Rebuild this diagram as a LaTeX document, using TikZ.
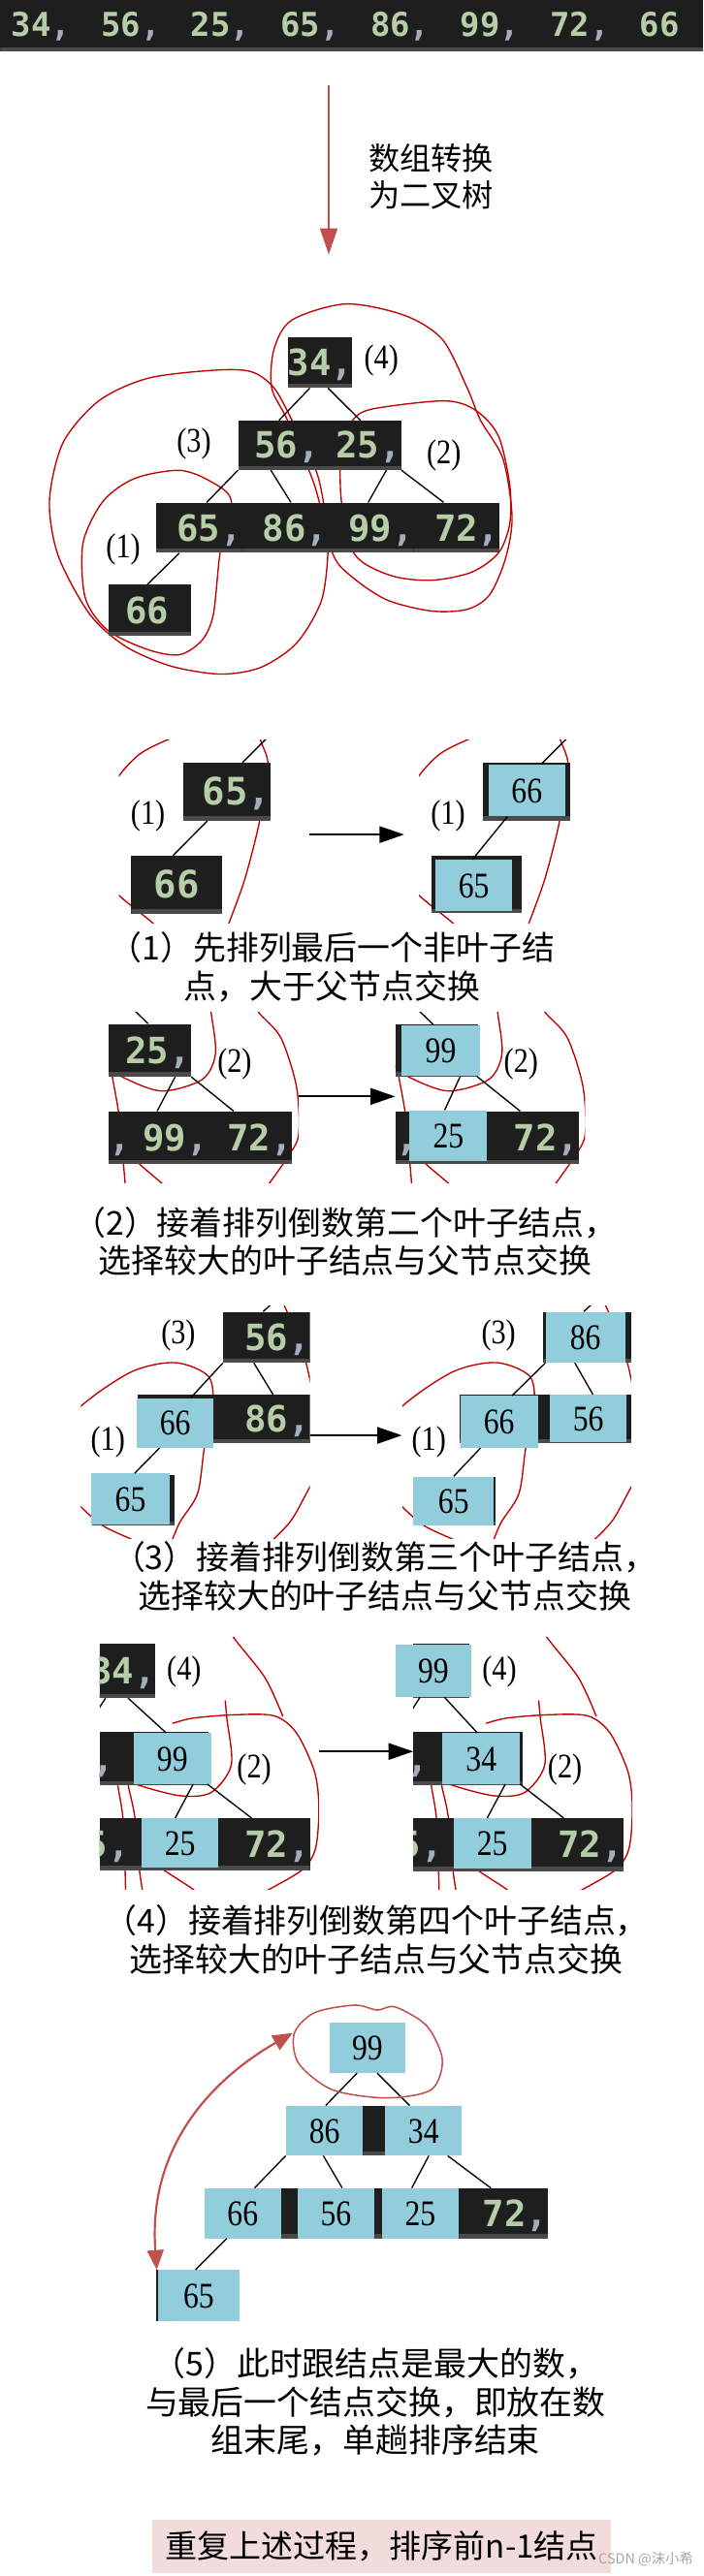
\documentclass[tikz,border=0pt]{standalone}
\usepackage{fontspec}
\usepackage{xcolor}
\usepackage{tikz}
\usetikzlibrary{arrows.meta}
\newfontfamily\cjk{Noto Sans CJK SC}
\newfontfamily\codefont{DejaVu Sans Mono}
\newfontfamily\numfont[FakeStretch=0.85]{Liberation Serif}
\definecolor{darkbg}{HTML}{1E1E1E}
\definecolor{stripe}{HTML}{4A4A4A}
\definecolor{numgreen}{HTML}{B5CEA8}
\definecolor{commac}{HTML}{A3AEBD}
\definecolor{boxblue}{HTML}{92CDDC}
\definecolor{loopred}{HTML}{C00000}
\definecolor{arrred}{HTML}{C0504D}
\definecolor{notebg}{HTML}{F2DCDB}
\newcommand{\cma}{\textcolor{commac}{,}}
\newcommand{\hc}{\phantom{,}}
\newcommand{\cnum}{\codefont\bfseries\fontsize{22}{22}\selectfont}
\newcommand{\cnumL}{\codefont\bfseries\fontsize{23}{23}\selectfont}
\newcommand{\bnum}{\numfont\fontsize{22}{22}\selectfont}
\tikzset{
  dk/.style={fill=darkbg,path picture={\fill[stripe] (path picture bounding box.south west) rectangle ([yshift=2.5pt]path picture bounding box.south east);}},
  sz/.style 2 args={minimum width=#1pt,minimum height=#2pt},
  tx/.style={text=numgreen,inner sep=0pt,font=\cnum,text height=16pt,text depth=0pt},
  topnum/.style={font=\codefont\bfseries\fontsize{20}{20}\selectfont,text height=14.6pt},
  dn/.style 2 args={dk,tx,text width=#1pt,align=right,minimum height=#2pt},
  tc/.style 2 args={tx,text width=#1pt,align=right,minimum height=#2pt},
  bl/.style={fill=boxblue,inner sep=0pt,font=\bnum,text height=14.9pt,text depth=0pt},
  lbl/.style={inner sep=0pt,font=\numfont\fontsize{21}{21}\selectfont},
  captxt/.style={inner sep=0pt,align=center,font=\cjk\fontsize{20}{23.5}\selectfont},
  ln/.style={line width=0.8pt},
  lp/.style={draw=loopred,line width=0.8pt},
  swap/.style={-{Triangle[length=15pt,width=10pt]},line width=1.2pt},
  redar/.style={draw=arrred,line width=1.3pt}
}
\begin{document}
\begin{tikzpicture}[x=1pt,y=-1pt]
\useasboundingbox (0,0) rectangle (427.7,1568);
% array
\node[dk,sz={427.7}{31},inner sep=0pt,anchor=north west] (bar) at (0,0) {};
\foreach \v [count=\i] in {34,56,25,65,86,99,72}
  \node[tx,topnum,anchor=west] (t\i) at ({6.8+54.6*(\i-1)},14.8) {\v\cma};
\node[tx,topnum,anchor=west] (t8) at (389,14.8) {66};
\coordinate (cvA) at (200,52);
\coordinate (cvB) at (200,155);
\draw[redar,-{Triangle[length=16pt,width=10.5pt]}] (cvA) -- (cvB);
\node[captxt,align=left,anchor=west,font=\cjk\fontsize{19}{22.6}\selectfont] (cvT) at (224,107.7) {数组转换\\为二叉树};

% tree
\draw[lp] plot[smooth cycle] coordinates {(109.3,286.3) (128.4,293.2) (140.7,305) (133.9,336.5) (129.8,373.9) (123,389.6) (109.3,398.5) (90.2,395.5) (65.6,383.7) (51.9,364) (50.5,330.6) (62.8,305) (82,291.2)};
\draw[lp] plot[smooth cycle] coordinates {(131.1,225.3) (153,226.3) (166.7,236.1) (177.6,255.8) (192.6,287.3) (198.1,314.8) (199.5,336.5) (195.4,366) (180.3,391.6) (158.5,406.3) (133.9,410.3) (103.8,405.4) (76.5,393.5) (54.6,373.9) (35.5,338.5) (30.1,305) (38.3,269.6) (60.1,244) (90.2,230.2)};
\draw[lp] plot[smooth cycle] coordinates {(165.3,236.1) (166.7,212.5) (177.6,194.8) (210.4,185) (245.9,191.9) (269.1,206.6) (284.2,236.1) (292.3,255.8) (306,279.4) (311.5,314.8) (307.4,340.4) (297.8,362.1) (284.2,370.9) (262.3,371.9) (235,365) (213.1,350.3) (202.2,336.5) (191.3,295.2) (174.9,255.8)};
\draw[lp] plot[smooth cycle] coordinates {(214.5,255.8) (226.8,248.9) (270.5,244) (289.6,249.9) (303.3,265.6) (310.1,295.2) (310.1,318.8) (303.3,336.5) (286.9,348.3) (262.3,353.2) (237.7,350.3) (215.8,337.5) (207.7,305) (207.7,271.6)};
\node[dn={39}{31}] (a34) at (194.5,220.5) {34\cma};
\node[dn={49.5}{30}] (a56) at (169.75,271) {56\cma};
\node[dn={49.5}{30}] (a25) at (219.25,271) {25\cma};
\foreach \v/\x in {65/121.1,86/173.4,99/225.6,72/277.9}
  \node[dn={52.25}{30.5}] (a\v) at (\x,321.25) {\v\cma};
\node[dn={50}{31}] (a66) at (91,371.5) {66\hc};
\draw[ln] ([xshift=-6pt]a34.south) -- (a56.north);
\draw[ln] ([xshift=5pt]a34.south) -- (a25.north);
\draw[ln] (a56.south west) -- ([xshift=4.6pt]a65.north);
\draw[ln] ([xshift=-5pt]a56.south) -- ([xshift=3.6pt]a86.north);
\draw[ln] ([xshift=15.8pt]a25.south) -- ([xshift=-1.6pt]a99.north);
\draw[ln] (a25.south east) -- ([xshift=-8pt]a72.north);
\draw[ln] ([xshift=-12pt]a65.south) -- ([xshift=-1.4pt]a66.north);
\node[lbl] (la4) at (232,219.5) {(4)};
\node[lbl] (la3) at (118,270) {(3)};
\node[lbl] (la2) at (270,277.5) {(2)};
\node[lbl] (la1) at (75,334.5) {(1)};

% step (1)
\foreach \s in {0,182.5}{
  \begin{scope}[xshift=\s pt]
    \clip (72.4,450.6) rectangle (164.8,561.8);
    \draw[lp] plot[smooth] coordinates {(62,490) (72.4,472.2) (85,459) (101.1,450.6) (115,446)};
    \draw[lp] plot[smooth] coordinates {(155,438) (158.5,450.6) (163,464.4) (160,485) (157.1,503.7) (148.9,535.2) (139.3,561.8) (135,572)};
    \draw[lp] plot[smooth] coordinates {(62,532) (72.4,545) (92.9,561.8) (100,570)};
  \end{scope}}
\begin{scope}
  \clip (72.4,450.6) rectangle (164.8,561.8);
  \node[dn={53.6}{35},font=\cnumL] (b65) at (138,481.9) {65\cma};
  \node[dn={55.4}{35},font=\cnumL] (b66) at (107.5,538.5) {66\hc};
  \draw[ln] ([xshift=-11.8pt]b65.south) -- ([xshift=-2.3pt]b66.north);
  \draw[ln] ([xshift=9.5pt]b65.north) -- ++(16,-16);
\end{scope}
\begin{scope}
  \clip (254.9,450.6) rectangle (347.3,561.8);
  \fill[dk] (293.7,464.4) rectangle (347,499.4);
  \fill[dk] (262.3,521) rectangle (317.5,555.9);
  \node[bl,sz={46.4}{31.4}] (b66r) at (320.5,481.1) {66};
  \node[bl,sz={46.5}{31.1}] (b65r) at (288.25,538.95) {65};
  \draw[ln] ([xshift=-11.8pt]b66r.south) -- ([xshift=-0.85pt]b65r.north);
  \draw[ln] ([xshift=8.7pt]b66r.north) -- ++(16,-16);
\end{scope}
\node[lbl] (l1a) at (90,496.8) {(1)};
\node[lbl] (l1b) at (272.5,496.8) {(1)};
\coordinate (s1a) at (188,508);
\coordinate (s1b) at (245.9,508);
\draw[swap] (s1a) -- (s1b);
\node[captxt] (c1) at (202,588.8) {（1）先排列最后一个非叶子结\\点，大于父节点交换};

% step (2)
\foreach \s in {0,174.3}{
  \begin{scope}[xshift=\s pt]
    \clip (66.1,615.9) rectangle (181.7,720.2);
    \draw[lp] plot[smooth] coordinates {(127.5,605) (128.4,615.9) (131.1,641.4) (123,657.1) (98.4,664.1) (75.1,655.9) (65,648)};
    \draw[lp] plot[smooth] coordinates {(152,605) (157.1,615.9) (170.8,631.6) (180.3,661.1) (181.7,690.6) (174.9,704.4) (163.9,720.2) (158,728)};
    \draw[lp] plot[smooth] coordinates {(67,645) (68.3,655.2) (72.4,678.8) (75.1,708.4) (76.5,725)};
    \draw[lp] plot[smooth] coordinates {(80,702) (84.7,708.4) (98.4,720.2) (104,726)};
  \end{scope}}
\begin{scope}
  \clip (66.1,615.9) rectangle (181.7,720.2);
  \node[dn={50}{31.9}] (d25) at (91.1,639.25) {25\cma};
  \fill[dk] (66.1,676.5) rectangle (177.6,708.4);
  \node[tx,anchor=east] (d86) at (80,692.45) {86\cma};
  \node[tc={50}{31.9}] (d99) at (101.6,692.45) {99\cma};
  \node[tc={49.4}{31.9}] (d72) at (153.3,692.45) {72\cma};
  \draw[ln] ([xshift=15.5pt]d25.south) -- ([xshift=-6pt]d99.north);
  \draw[ln] (d25.south east) -- ([xshift=-11.2pt]d72.north);
  \draw[ln] ([xshift=-1pt]d25.north) -- ++(-14,-13.5);
\end{scope}
\begin{scope}
  \clip (240.4,615.9) rectangle (356,720.2);
  \fill[dk] (240.4,623.3) rectangle (291,655.2);
  \node[bl,sz={47.3}{31.1}] (d99r) at (268.15,639.45) {99};
  \fill[dk] (240.4,676.5) rectangle (351.9,708.4);
  \node[tx,anchor=east] (d86r) at (254.3,692.45) {86\cma};
  \node[bl,sz={47.2}{30.9}] (d25r) at (272.8,691.35) {25};
  \node[tc={49.4}{31.9}] (d72r) at (327.6,692.45) {72\cma};
  \draw[ln] ([xshift=11.85pt]d99r.south) -- ([xshift=-2.3pt]d25r.north);
  \draw[ln] ([xshift=22pt]d99r.south) -- ([xshift=-11.2pt]d72r.north);
  \draw[ln] ([xshift=-4.5pt]d99r.north) -- ++(-14,-13.5);
\end{scope}
\node[lbl] (l2a) at (142.7,647.4) {(2)};
\node[lbl] (l2b) at (317,647.4) {(2)};
\coordinate (s2a) at (181.7,667.4);
\coordinate (s2b) at (240.4,667.4);
\draw[swap] (s2a) -- (s2b);
\node[captxt] (c2) at (210,755.6) {（2）接着排列倒数第二个叶子结点，\\选择较大的叶子结点与父节点交换};

% step (3)
\foreach \s in {0,195.5}{
  \begin{scope}[xshift=\s pt]
    \clip (49.2,795) rectangle (188.5,936.6);
    \draw[lp] plot[smooth] coordinates {(38,875) (49.2,856) (80,835) (106.6,829.4) (127,838) (129.5,857.9) (124.3,881.6) (120.2,909.1) (109.3,926.8) (103,942)};
    \draw[lp] plot[smooth] coordinates {(40,905) (49.2,917.1) (62.8,928.8) (79.2,936.6) (88,941)};
    \draw[lp] plot[smooth] coordinates {(196,892) (188.5,905.1) (177.6,924.8) (166.7,936.6) (160,942)};
    \draw[lp] plot[smooth] coordinates {(168,785) (174,797) (180,812) (186,829) (189,842)};
  \end{scope}}
\begin{scope}
  \clip (49.2,795) rectangle (188.5,936.6);
  \node[dn={52.7}{30.9}] (e56) at (162.15,813.95) {56\cma};
  \fill[dk] (84,849.1) rectangle (188.5,878.6);
  \node[tc={58.7}{29.5}] (e86) at (159.15,863.85) {86\cma};
  \node[bl,sz={46.5}{30.2}] (e66) at (106.55,866.1) {66};
  \fill[dk] (56,898) rectangle (106,928.8);
  \node[bl,sz={47.8}{30.9}] (e65) at (79.4,912.35) {65};
  \draw[ln] (e56.south west) -- ([xshift=9.5pt]e66.north);
  \draw[ln] ([xshift=-7.75pt]e56.south) -- ([xshift=7pt]e86.north);
  \draw[ln] ([xshift=-9.5pt]e66.south) -- ([xshift=2.6pt]e65.north);
  \draw[ln] ([xshift=-2pt]e56.north) -- ++(12,-11);
\end{scope}
\begin{scope}
  \clip (244.7,795) rectangle (384,936.6);
  \fill[dk] (330.6,798.5) rectangle (383.9,829.4);
  \node[bl,sz={48.3}{30.9}] (e86r) at (356.15,813.95) {86};
  \fill[dk] (279.5,849.1) rectangle (384,878.6);
  \node[bl,sz={47.3}{31.5}] (e66r) at (303.65,865.45) {66};
  \node[bl,sz={46.4}{29}] (e56r) at (357.9,863.5) {56};
  \fill[dk] (252,898.9) rectangle (301.5,928.8);
  \node[bl,sz={49.1}{29.9}] (e65r) at (275.95,913.85) {65};
  \draw[ln] (e86r.south west) -- ([xshift=7.85pt]e66r.north);
  \draw[ln] ([xshift=-6.45pt]e86r.south) -- ([xshift=2.8pt]e56r.north);
  \draw[ln] ([xshift=-11.35pt]e66r.south) -- (e65r.north);
  \draw[ln] ([xshift=-1pt]e86r.north) -- ++(12,-11);
\end{scope}
\node[lbl] (l3a) at (108.5,812.7) {(3)};
\node[lbl] (l3b) at (303.3,812.7) {(3)};
\node[lbl] (l3c) at (65.6,877.6) {(1)};
\node[lbl] (l3d) at (260.9,877.6) {(1)};
\coordinate (s3a) at (188.5,873.7);
\coordinate (s3b) at (244.5,873.7);
\draw[swap] (s3a) -- (s3b);
\node[captxt] (c3) at (234,959.5) {（3）接着排列倒数第三个叶子结点，\\选择较大的叶子结点与父节点交换};

% step (4)
\foreach \s in {0,190.7}{
  \begin{scope}[xshift=\s pt]
    \clip (60.7,996.6) rectangle (194,1150);
    \draw[lp] plot[smooth] coordinates {(136,985) (142,996.6) (161.2,1021.2) (172.1,1044.8)};
    \draw[lp] plot[smooth] coordinates {(105,1049) (117.5,1045.8) (142,1043.8) (166.7,1044.4) (180.3,1054.7) (191.3,1078.3) (194,1100) (192,1125) (184,1138) (163.9,1150) (155,1155)};
    \draw[lp] plot[smooth] coordinates {(137,1035) (138,1045.8) (140.7,1074.3) (128.4,1091.1) (109.3,1093) (82,1085.8) (75,1080)};
    \draw[lp] plot[smooth] coordinates {(70.5,1075) (71.6,1086.2) (75.1,1109.8) (76.5,1155)};
    \draw[lp] plot[smooth] coordinates {(77,1075) (77.9,1086.2) (82,1105.8) (84.7,1137.3) (87.4,1155)};
    \draw[lp] plot[smooth] coordinates {(92,1130) (98.4,1137.3) (117.5,1150) (122,1155)};
  \end{scope}}
\begin{scope}
  \clip (60.7,996.6) rectangle (194,1150);
  \node[dn={39.3}{32.8}] (g34) at (74.65,1017) {34\cma};
  \fill[dk] (60.7,1054.3) rectangle (127,1086.5);
  \node[tx,anchor=east] (g56) at (70,1070.4) {56\cma};
  \node[bl,sz={47}{30.8}] (g99) at (104.9,1070.4) {99};
  \fill[dk] (60.7,1106.8) rectangle (188.5,1138.3);
  \node[tx,anchor=east] (g65) at (79,1122.5) {65\cma};
  \node[bl,sz={47}{30.2}] (g25) at (109.5,1121.9) {25};
  \node[tc={55.5}{31.5}] (g72) at (160.75,1122.55) {72\cma};
  \draw[ln] ([xshift=3.25pt]g34.south) -- ([xshift=-3.8pt]g99.north);
  \draw[ln] ([xshift=-10.45pt]g34.south) -- ++(-14,22);
  \draw[ln] ([xshift=12.6pt]g99.south) -- ([xshift=-2.9pt]g25.north);
  \draw[ln] ([xshift=21.3pt]g99.south) -- ([xshift=-7.75pt]g72.north);
\end{scope}
\fill[dk] (251.4,1000.6) rectangle (285.6,1033.4);
\node[bl,sz={46.5}{31.9}] (g99r) at (263.65,1017.05) {99};
\begin{scope}
  \clip (251.4,996.6) rectangle (384.7,1150);
  \fill[dk] (251.4,1054.3) rectangle (317.7,1086.5);
  \node[tx,anchor=east] (g56r) at (260.7,1070.4) {56\cma};
  \node[bl,sz={47.3}{30.8}] (g34r) at (292.75,1070.4) {34};
  \fill[dk] (251.4,1106.8) rectangle (379.2,1138.9);
  \node[tx,anchor=east] (g65r) at (269.7,1122.5) {65\cma};
  \node[bl,sz={47}{30.6}] (g25r) at (299.5,1122.1) {25};
  \node[tc={55.5}{31.5}] (g72r) at (351.45,1122.55) {72\cma};
  \draw[ln] ([xshift=6.85pt]g99r.south) -- ([xshift=-2.35pt]g34r.north);
  \draw[ln] ([xshift=-8.2pt]g99r.south) -- ++(-14,22);
  \draw[ln] ([xshift=14.65pt]g34r.south) -- ([xshift=-3.1pt]g25r.north);
  \draw[ln] ([xshift=23.65pt]g34r.south) -- ([xshift=-8.55pt]g72r.north);
\end{scope}
\node[lbl] (l4a) at (112,1017.3) {(4)};
\node[lbl] (l4b) at (303.8,1017.3) {(4)};
\node[lbl] (l4c) at (154.6,1077.3) {(2)};
\node[lbl] (l4d) at (343.7,1077.3) {(2)};
\coordinate (s4a) at (194,1066.1);
\coordinate (s4b) at (251.4,1066.1);
\draw[swap] (s4a) -- (s4b);
\node[captxt] (c4) at (229,1180.6) {（4）接着排列倒数第四个叶子结点，\\选择较大的叶子结点与父节点交换};

% step (5)
\fill[dk] (220.8,1281.8) rectangle (234.4,1312);
\fill[dk] (171,1332) rectangle (180.9,1362.4);
\fill[dk] (227.9,1332) rectangle (232.2,1362.4);
\node[bl,sz={46.4}{30.4}] (f99) at (223.5,1246.5) {99};
\node[bl,sz={46.8}{30.2}] (f86) at (197.4,1296.9) {86};
\node[bl,sz={46.5}{30.2}] (f34) at (257.65,1296.9) {34};
\node[bl,sz={46.7}{30.4}] (f66) at (147.65,1347.2) {66};
\node[bl,sz={47}{30.4}] (f56) at (204.4,1347.2) {56};
\node[bl,sz={47}{30.4}] (f25) at (255.7,1347.2) {25};
\node[dn={54.1}{30.4}] (f72) at (306.25,1347.2) {72\cma};
\fill[darkbg] (95.1,1381.8) rectangle (96.6,1412.7);
\node[bl,sz={49.2}{30.9}] (f65) at (120.9,1397.25) {65};
\draw[ln] ([xshift=-6.3pt]f99.south) -- ([xshift=0.7pt]f86.north);
\draw[ln] ([xshift=6pt]f99.south) -- ([xshift=-8.5pt]f34.north);
\draw[ln] (f86.south west) -- ([xshift=7.2pt]f66.north);
\draw[ln] ([xshift=-0.7pt]f86.south) -- ([xshift=3.8pt]f56.north);
\draw[ln] ([xshift=3.2pt]f34.south) -- ([xshift=-5.2pt]f25.north);
\draw[ln] ([xshift=14.7pt]f34.south) -- ([xshift=-7.7pt]f72.north);
\draw[ln] ([xshift=-9.7pt]f66.south) -- ([xshift=-2pt]f65.north);
\draw[draw=arrred,line width=0.9pt] plot[smooth cycle] coordinates {(179,1237.7) (191.3,1225.1) (215.8,1220.5) (229.5,1223.5) (240.4,1221.6) (259.6,1233.1) (269.1,1253.7) (262.3,1272) (235,1277) (202.2,1272) (181.7,1256)};
\coordinate (lpW) at (178,1237.5);
\draw[redar,{Triangle[length=12pt,width=10pt]}-{Triangle[length=12pt,width=10pt]}] (lpW) .. controls (125,1268) and (90,1310) .. ([xshift=-0.7pt]f65.north west);
\node[captxt] (c5) at (228.5,1462) {（5）此时跟结点是最大的数，\\与最后一个结点交换，即放在数\\组末尾，单趟排序结束};

\node[fill=notebg,sz={278.7}{32},inner sep=0pt,font=\cjk\fontsize{19.5}{19.5}\selectfont] (note) at (232.25,1550) {重复上述过程，排序前n-1结点};
\node[inner sep=0pt,anchor=east,text=gray!70,font=\cjk\fontsize{8.5}{8.5}\selectfont] (wm) at (422,1558) {CSDN @沫小希};
\end{tikzpicture}
\end{document}
